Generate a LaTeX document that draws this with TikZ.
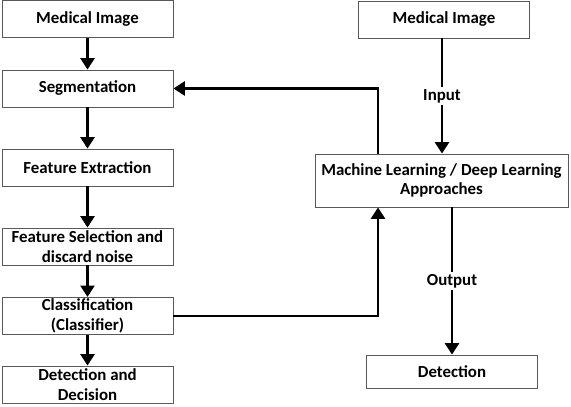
\documentclass[tikz,border=0pt]{standalone}
\usepackage{fontspec}
\setmainfont{Carlito}
\usetikzlibrary{arrows.meta}

\begin{document}
\begin{tikzpicture}[auto,
    stage/.style ={rectangle, draw=black!65, line width=0.5pt, minimum width=3.42cm,
      minimum height=0.74cm, inner sep=1pt, align=center,
      font=\fontsize{9.6}{11}\selectfont\bfseries},
    flow/.style ={line width=1.4pt, -{Triangle[width=8pt,length=6.5pt]}},
    tag/.style ={fill=white, inner sep=1.5pt, font=\fontsize{9.6}{11}\selectfont\bfseries}]
   \useasboundingbox (0,0) rectangle (11.42,8.14);
   \node[stage] (Img) at (1.75,7.76) {Medical Image};
   \node[stage] (Seg) at (1.75,6.37) {Segmentation};
   \node[stage] (Ext) at (1.75,4.79) {Feature Extraction};
   \node[stage] (Sel) at (1.75,3.21) {Feature Selection and\\discard noise};
   \node[stage] (Cls) at (1.75,1.82) {Classification\\(Classifier)};
   \node[stage] (Dec) at (1.75,0.45) {Detection and\\Decision};
   \node[stage] (Img2) at (8.88,7.75) {Medical Image};
   \node[stage, minimum width=5.06cm, minimum height=1.06cm] (ML) at (8.83,4.53)
      {Machine Learning / Deep Learning\\Approaches};
   \node[stage, minimum height=0.66cm] (Det) at (9.04,0.71) {Detection};
   \coordinate (F) at (7.56,0);
   \draw[flow] (Img) to (Seg);
   \draw[flow] (Seg) to (Ext);
   \draw[flow] (Ext) to (Sel);
   \draw[flow] (Sel) to (Cls);
   \draw[flow] (Cls) to (Dec);
   \draw[flow] (Img2.south -| 8.84,0) -- node[tag, swap, anchor=center] {Input} (ML.north -| 8.84,0);
   \draw[flow] (ML.south -| Det.north) -- node[tag, swap, anchor=center] {Output} (Det.north);
   \draw[flow] (F |- ML.north) |- (Seg.east);
   \draw[flow] (Cls.east) -| (F |- ML.south);
\end{tikzpicture}
\end{document}
